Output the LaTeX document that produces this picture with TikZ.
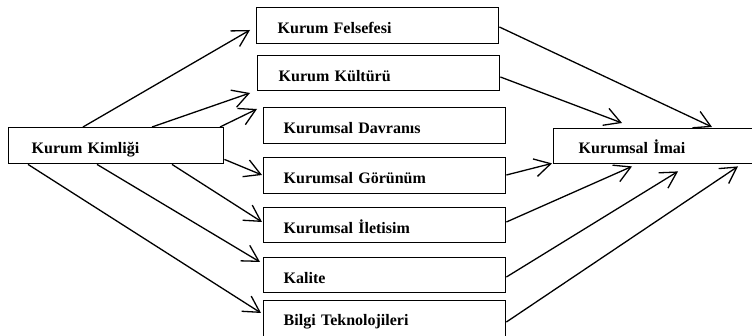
\documentclass[tikz,border=0pt]{standalone}
\usepackage{fontspec}
\setmainfont{Liberation Serif}
\usetikzlibrary{arrows.meta,calc}
\tikzset{
  box/.style={draw, line width=1.4pt, anchor=north west, inner ysep=0pt,
    text height=26pt, text depth=10pt, align=left,
    font=\fontsize{16}{18}\selectfont\bfseries},
  conn/.style={line width=1.3pt, -{Straight Barb[length=16pt,width=18pt,line width=1.3pt]}}
}
\begin{document}
\begin{tikzpicture}[x=1pt,y=-1pt]
\useasboundingbox (0,0) rectangle (752,336);
\clip (0,0) rectangle (752,336);
\node[box, inner xsep=23pt, text width=169pt] (kim) at (8,127) {Kurum Kimliği};
\node[box, inner xsep=21pt, text width=200pt] (fel) at (256,7) {Kurum Felsefesi};
\node[box, inner xsep=21pt, text width=200pt, text depth=9pt] (kul) at (257,55) {Kurum Kültürü};
\node[box, inner xsep=20pt, text width=202pt] (dav) at (263,107) {Kurumsal Davranıs};
\node[box, inner xsep=20pt, text width=202pt] (gor) at (263,157) {Kurumsal Görünüm};
\node[box, inner xsep=20pt, text width=202pt, text depth=9pt] (ile) at (263,207) {Kurumsal İletisim};
\node[box, inner xsep=20pt, text width=202pt, text depth=9pt] (kal) at (263,257) {Kalite};
\node[box, inner xsep=20pt, text width=202pt, text height=25pt, text depth=40pt] (bil) at (263,300) {Bilgi Teknolojileri};
\node[box, inner xsep=25pt, text width=220pt, text height=25pt] (ima) at (553,128) {Kurumsal İmai};
% from Kurum Kimligi
\draw[conn] ($(kim.north west)+(75,0)$) -- ($(fel.north west)+(-6,23)$);
\draw[conn] ($(kim.north west)+(144,0)$) -- ($(kul.north west)+(-7,38)$);
\draw[conn] ($(kim.north west)+(212,0)$) -- ($(dav.north west)+(-6,2)$);
\draw[conn] ($(kim.south east)+(0,-5)$) -- ($(gor.north west)+(-1,18)$);
\draw[conn] ($(kim.south west)+(164,0)$) -- ($(ile.north west)+(-1,15)$);
\draw[conn] ($(kim.south west)+(89,0)$) -- ($(kal.north west)+(-3,5)$);
\draw[conn] ($(kim.south west)+(20,0)$) -- ($(bil.north west)+(-2,13)$);
% to Kurumsal Imai
\draw[conn] ($(fel.north east)+(0,20)$) -- ($(ima.north west)+(159,-1)$);
\draw[conn] ($(kul.north east)+(0,22)$) -- ($(ima.north west)+(69,-5)$);
\draw[conn] ($(gor.north east)+(0,18)$) -- ($(ima.south west)+(-1,-1)$);
\draw[conn] ($(ile.north east)+(0,15)$) -- ($(ima.south west)+(79,2)$);
\draw[conn] ($(kal.north east)+(0,20)$) -- ($(ima.south west)+(125,7)$);
\draw[conn] ($(bil.north east)+(0,22)$) -- ($(ima.south west)+(185,2)$);
\end{tikzpicture}
\end{document}
